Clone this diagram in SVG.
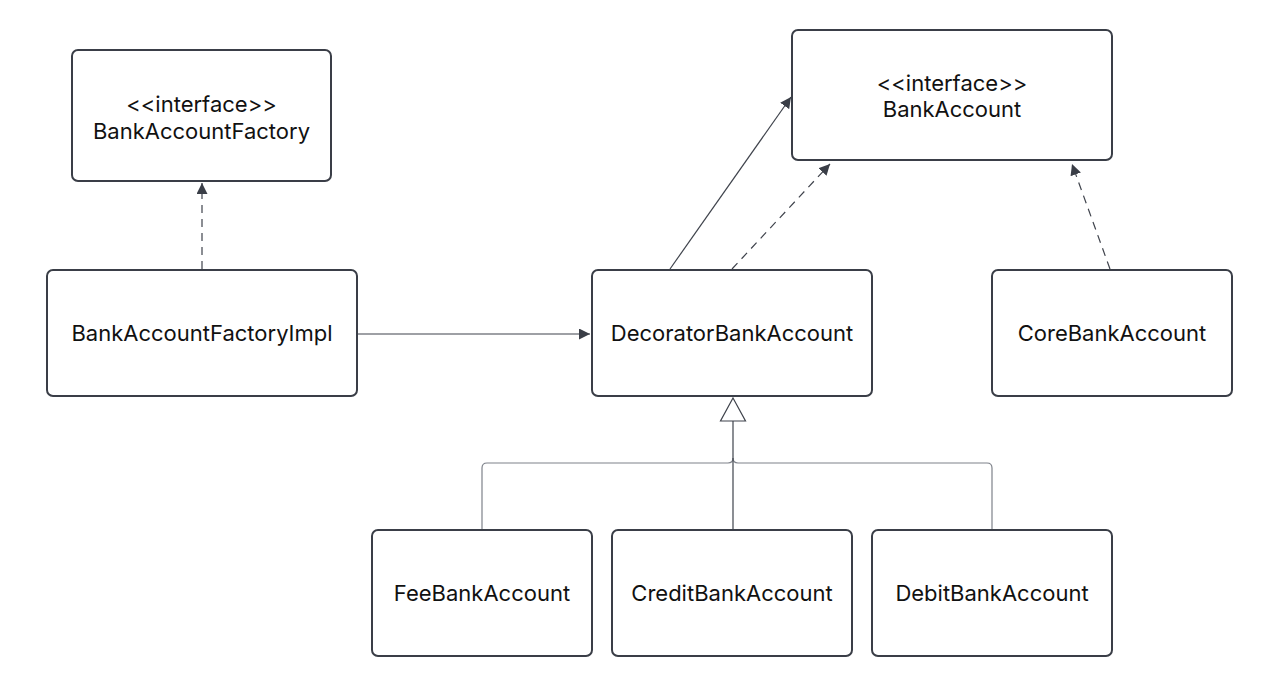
<svg xmlns="http://www.w3.org/2000/svg" width="1265" height="686" viewBox="0 0 1265 686">
<defs>
<style>
.box{fill:#ffffff;stroke:#3a3e47;stroke-width:2}
.lbl{font-family:Inter,"Liberation Sans",sans-serif;font-size:22px;fill:#111111;text-anchor:middle}
.c{fill:none;stroke:#3f434c;stroke-width:1.2}
.d{stroke-dasharray:8,6}
.g{fill:none;stroke:#7e828a;stroke-width:1.2}
</style>
<marker id="ah" viewBox="0 0 10 10" refX="10" refY="5" markerWidth="11" markerHeight="11" markerUnits="userSpaceOnUse" orient="auto">
<path d="M0,0 L10,5 L0,10 z" fill="#3a3e47"/>
</marker>
</defs>
<rect width="1265" height="686" fill="#ffffff"/>
<g id="connectors">
<path class="c d" d="M202,269 V183" marker-end="url(#ah)"/>
<path class="c" d="M670,269 L791,97" marker-end="url(#ah)"/>
<path class="c d" d="M732,269 L830,164" marker-end="url(#ah)"/>
<path class="c d" d="M1110,269 L1072,164" marker-end="url(#ah)"/>
<path class="c" d="M358,334 H590" marker-end="url(#ah)"/>
<path class="g" d="M482,530 V468 Q482,463 487,463 H728 Q733,463 733,458"/>
<path class="g" d="M992,530 V468 Q992,463 987,463 H738 Q733,463 733,458"/>
<path class="c" d="M733,530 V421"/>
<path d="M733,398 L745.5,421 L720.5,421 Z" fill="#ffffff" stroke="#3f434c" stroke-width="1.2"/>
</g>
<g id="BankAccountFactory">
<rect class="box" x="72" y="50" width="259" height="131" rx="6"/>
<text class="lbl" x="201.5" y="112">&lt;&lt;interface&gt;&gt;</text>
<text class="lbl" x="201.5" y="139">BankAccountFactory</text>
</g>
<g id="BankAccount">
<rect class="box" x="792" y="30" width="320" height="130" rx="6"/>
<text class="lbl" x="952" y="91">&lt;&lt;interface&gt;&gt;</text>
<text class="lbl" x="952" y="117">BankAccount</text>
</g>
<g id="BankAccountFactoryImpl">
<rect class="box" x="47" y="270" width="310" height="126" rx="6"/>
<text class="lbl" x="202" y="341">BankAccountFactoryImpl</text>
</g>
<g id="DecoratorBankAccount">
<rect class="box" x="592" y="270" width="280" height="126" rx="6"/>
<text class="lbl" x="732" y="341">DecoratorBankAccount</text>
</g>
<g id="CoreBankAccount">
<rect class="box" x="992" y="270" width="240" height="126" rx="6"/>
<text class="lbl" x="1112" y="341">CoreBankAccount</text>
</g>
<g id="FeeBankAccount">
<rect class="box" x="372" y="530" width="220" height="126" rx="6"/>
<text class="lbl" x="482" y="601">FeeBankAccount</text>
</g>
<g id="CreditBankAccount">
<rect class="box" x="612" y="530" width="240" height="126" rx="6"/>
<text class="lbl" x="732" y="601">CreditBankAccount</text>
</g>
<g id="DebitBankAccount">
<rect class="box" x="872" y="530" width="240" height="126" rx="6"/>
<text class="lbl" x="992" y="601">DebitBankAccount</text>
</g>
</svg>
